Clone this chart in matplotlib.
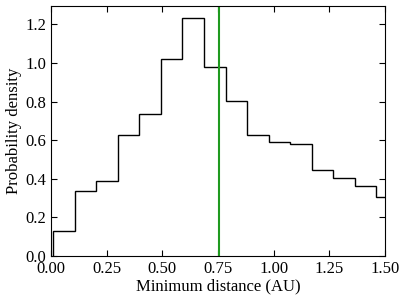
import numpy as np
import matplotlib.pyplot as plt

plt.rcParams['font.family'] = ['Liberation Serif', 'DejaVu Serif']
plt.rcParams['font.size'] = 12

# bin edges and probability density
bin_edges = [0.011, 0.107, 0.204, 0.301, 0.397, 0.494, 0.590, 0.687, 0.784,
             0.880, 0.977, 1.073, 1.170, 1.266, 1.363, 1.459, 1.556]
density = [0.130, 0.338, 0.390, 0.625, 0.736, 1.022, 1.231, 0.977,
           0.803, 0.627, 0.592, 0.580, 0.446, 0.406, 0.363, 0.306]
marker_x = 0.753

fig = plt.figure(figsize=(4.07, 3.01), dpi=100)
ax = fig.add_axes([0.125, 0.1495, 0.821, 0.8305])

ax.stairs(density, bin_edges, color='black', linewidth=1.0)
ax.axvline(marker_x, color='#1f9a1f', linewidth=1.5)

ax.set_xlim(0, 1.5)
ax.set_ylim(0, 1.295)
ax.set_xticks([0, 0.25, 0.5, 0.75, 1.0, 1.25, 1.5])
ax.set_xticklabels(['0.00', '0.25', '0.50', '0.75', '1.00', '1.25', '1.50'])
ax.set_yticks([0, 0.2, 0.4, 0.6, 0.8, 1.0, 1.2])
ax.tick_params(direction='in', top=True, right=True, length=4)

ax.set_xlabel('Minimum distance (AU)', labelpad=1)
ax.set_ylabel('Probability density', labelpad=2)

fig.savefig('out.png', dpi=100)
